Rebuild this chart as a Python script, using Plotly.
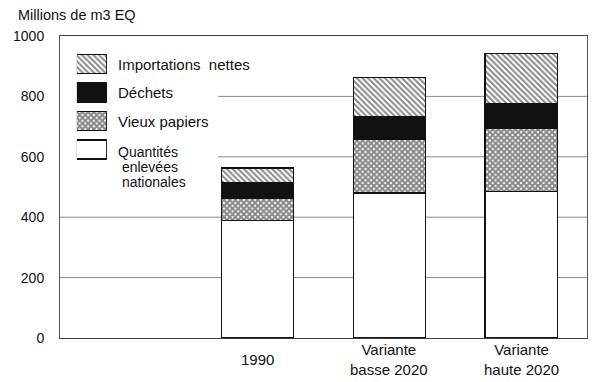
import plotly.graph_objects as go

# ---- data ----
categories = ["1990", "Variante<br>basse 2020", "Variante<br>haute 2020"]
quantites = [390, 480, 485]
vieux_papiers = [73, 179, 209]
dechets = [50, 74, 81]
importations = [50, 130, 166]
series_names = ["Quantités enlevées nationales", "Vieux papiers", "Déchets", "Importations nettes"]
legend_labels = [["Quantités", "\u00a0enlevées", "\u00a0nationales"], ["Vieux papiers"], ["Déchets"],
                 ["Importations\u00a0 nettes"]]
y_ticks = [0, 200, 400, 600, 800, 1000]
y_title = "Millions de m3 EQ"

# ---- styles ----
FONT = "Liberation Sans, Arial, sans-serif"
INK = "#111111"
styles = [
    dict(color="white", line=dict(color=INK, width=1.2)),
    dict(color="white", line=dict(color=INK, width=1.2),
         pattern=dict(shape="x", fgcolor=INK, bgcolor="white", size=4, solidity=0.75)),
    dict(color=INK, line=dict(color=INK, width=1.2)),
    dict(color="white", line=dict(color=INK, width=1.2),
         pattern=dict(shape="\\", fgcolor=INK, bgcolor="white", size=4, solidity=0.5)),
]
values = [quantites, vieux_papiers, dechets, importations]

slots = [" "] + categories  # empty first slot on the axis

fig = go.Figure()
for name, vals, st in zip(series_names, values, styles):
    fig.add_trace(go.Bar(x=categories, y=vals, name=name, marker=st, width=0.547,
                         showlegend=False, xaxis="x", yaxis="y"))

# legend swatches drawn as a small inset bar chart
for i, (name, st) in enumerate(zip(series_names, styles)):
    fig.add_trace(go.Bar(x=[1], y=[i], orientation="h", marker=st, width=0.667,
                         showlegend=False, hoverinfo="skip", xaxis="x2", yaxis="y2"))

annotations = []
for i, lines in enumerate(legend_labels):
    offs = [0.0] if len(lines) == 1 else [-0.07, -0.62, -1.15]
    for line, off in zip(lines, offs):
        annotations.append(dict(text=line, xref="paper", yref="paper",
                                x=0.106, y=0.577 + (i + off + 0.5) / 4 * (0.954 - 0.577),
                                xanchor="left", yanchor="middle", showarrow=False,
                                font=dict(family=FONT, size=14 if len(lines) > 1 else 15,
                                          color=INK)))
for k, c in enumerate(categories):
    annotations.append(dict(text=c, xref="x", yref="paper", x=k + 1, y=-0.07,
                            xanchor="center", yanchor="middle", showarrow=False,
                            font=dict(family=FONT, size=15, color=INK)))
annotations.append(dict(text=y_title, xref="paper", yref="paper", x=-0.083, y=1.07,
                        xanchor="left", yanchor="middle", showarrow=False,
                        font=dict(family=FONT, size=14.5, color=INK)))

# gridlines (hidden behind the legend block for the upper ones)
shapes = []
for t in y_ticks[1:-1]:
    x0 = 0.30 if t >= 600 else 0.0
    shapes.append(dict(type="line", xref="x domain", yref="y", x0=x0, x1=1, y0=t, y1=t,
                       line=dict(color="#8a8a8a", width=1), layer="below"))

fig.update_layout(
    width=600, height=382,
    margin=dict(l=60, r=13, t=36, b=44, autoexpand=False),
    paper_bgcolor="white", plot_bgcolor="white",
    barmode="stack",
    font=dict(family=FONT, size=14, color=INK),
    xaxis=dict(type="category", categoryarray=slots, categoryorder="array",
               range=[-0.5, 3.5], showticklabels=False, showgrid=False, zeroline=False,
               showline=True, mirror=True, linecolor="#444", linewidth=1, ticks="",
               automargin=False),
    yaxis=dict(range=[0, 1000], tickvals=y_ticks, showgrid=False,
               zeroline=False, showline=True, mirror=True, linecolor="#555",
               linewidth=1, ticks="", ticklabelstandoff=12, automargin=False,
               tickfont=dict(family=FONT, size=14, color=INK)),
    xaxis2=dict(domain=[0.032, 0.089], range=[0, 1], visible=False, anchor="y2"),
    yaxis2=dict(domain=[0.577, 0.954], range=[-0.5, 3.5], visible=False, anchor="x2"),
    annotations=annotations,
    shapes=shapes,
)

fig.write_html("out.html", config={"displayModeBar": False, "staticPlot": True})

# remove the default page margin so the figure sits at the window's top-left corner
with open("out.html", encoding="utf-8") as f:
    html = f.read()
html = html.replace("<head>", "<head><style>html,body{margin:0;padding:0;overflow:hidden}</style>", 1)
with open("out.html", "w", encoding="utf-8") as f:
    f.write(html)
